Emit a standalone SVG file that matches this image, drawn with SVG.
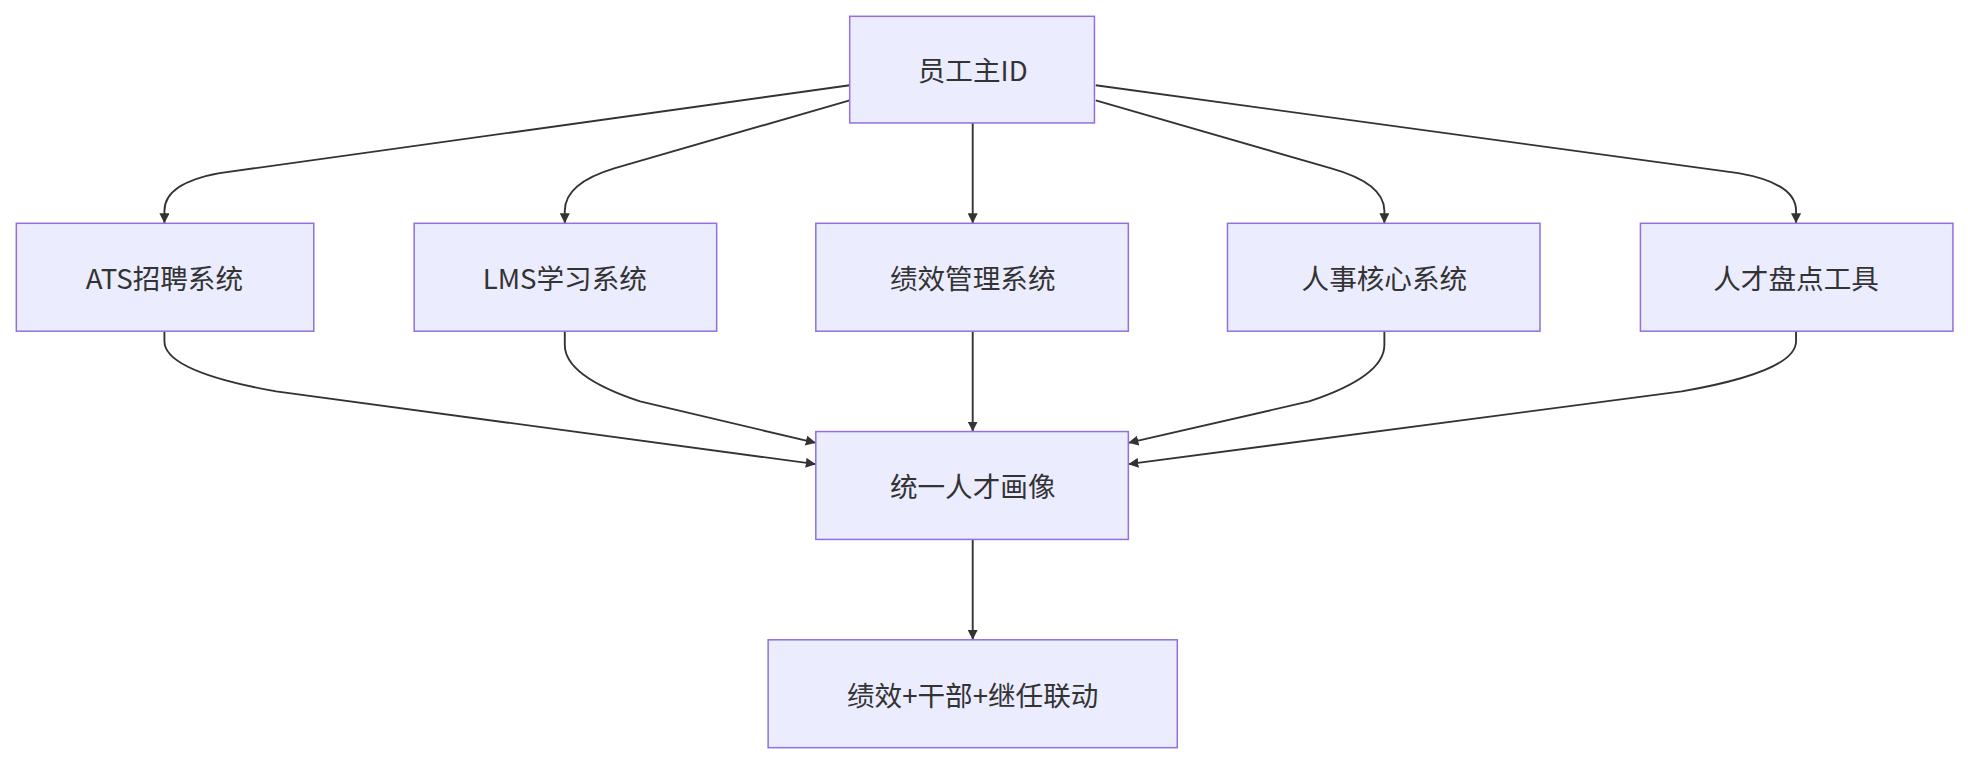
<svg xmlns="http://www.w3.org/2000/svg" width="1968" height="764" viewBox="0 0 1968 764">
<style>
.n rect{fill:#ECECFF;stroke:#9370DB;stroke-width:1.2}
.n text{font-family:"Noto Sans CJK SC","Noto Sans",sans-serif;font-size:22px;fill:#333;text-anchor:middle;dominant-baseline:central}
.e path{fill:none;stroke:#333;stroke-width:1.5;marker-end:url(#a)}
</style>
<defs><marker id="a" viewBox="0 0 10 10" refX="10" refY="5" markerWidth="8" markerHeight="8" markerUnits="userSpaceOnUse" orient="auto"><path d="M0,0L10,5L0,10z" fill="#333"/></marker></defs>
<rect width="1968" height="764" fill="#fff"/>
<g transform="scale(1.2551,1.2545)">
<g class="e">
<path d="M677,68 L175,138 Q131,146 131,168 V178"/>
<path d="M677,80 L490,134 Q450,146 450,168 V178"/>
<path d="M775,98 V178"/>
<path d="M873,80 L1060,134 Q1103,146 1103,168 V178"/>
<path d="M873,68 L1385,138 Q1431,146 1431,168 V178"/>
<path d="M131,264 V272 Q131,296 220,312 L650,370"/>
<path d="M450,264 V275 Q450,300 510,320 L650,353"/>
<path d="M775,264 V344"/>
<path d="M1103,264 V275 Q1103,300 1043,320 L899,353"/>
<path d="M1431,264 V272 Q1431,296 1340,312 L899,370"/>
<path d="M775,430 V510"/>
</g>
<g id="n0" class="n"><rect x="677" y="13" width="195" height="85"/><text x="775" y="55">员工主ID</text></g>
<g id="n1" class="n"><rect x="13" y="178" width="237" height="86"/><text x="131" y="221">ATS招聘系统</text></g>
<g id="n2" class="n"><rect x="330" y="178" width="241" height="86"/><text x="450" y="221">LMS学习系统</text></g>
<g id="n3" class="n"><rect x="650" y="178" width="249" height="86"/><text x="775" y="221">绩效管理系统</text></g>
<g id="n4" class="n"><rect x="978" y="178" width="249" height="86"/><text x="1103" y="221">人事核心系统</text></g>
<g id="n5" class="n"><rect x="1307" y="178" width="249" height="86"/><text x="1431" y="221">人才盘点工具</text></g>
<g id="n6" class="n"><rect x="650" y="344" width="249" height="86"/><text x="775" y="387">统一人才画像</text></g>
<g id="n7" class="n"><rect x="612" y="510" width="326" height="86"/><text x="775" y="553">绩效+干部+继任联动</text></g>
</g>
</svg>
